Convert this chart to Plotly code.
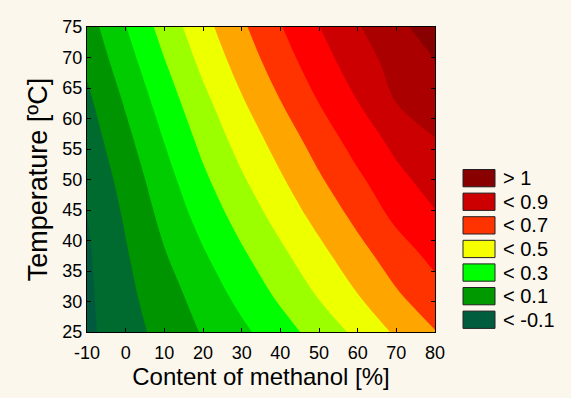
import plotly.graph_objects as go

# Data: estimated response values on a grid
methanol = [-10, 0, 10, 20, 30, 40, 50, 60, 70, 80]          # x, %
temperature = [25, 31, 38, 44, 50, 56, 63, 69, 75]          # y, ºC
response = [
    [-0.120, -0.042, 0.034, 0.108, 0.179, 0.258, 0.340, 0.423, 0.515, 0.596],  # 25
    [-0.118, -0.026, 0.058, 0.141, 0.230, 0.318, 0.408, 0.497, 0.588, 0.662],  # 31
    [-0.112, -0.008, 0.095, 0.192, 0.288, 0.381, 0.474, 0.568, 0.655, 0.733],  # 38
    [-0.100, 0.012, 0.128, 0.237, 0.339, 0.436, 0.533, 0.626, 0.722, 0.790],   # 44
    [-0.080, 0.037, 0.162, 0.281, 0.388, 0.488, 0.588, 0.682, 0.772, 0.843],   # 50
    [-0.055, 0.070, 0.200, 0.324, 0.436, 0.538, 0.640, 0.738, 0.825, 0.893],   # 56
    [-0.020, 0.113, 0.249, 0.375, 0.492, 0.600, 0.705, 0.802, 0.905, 0.948],   # 63
    [0.018, 0.155, 0.293, 0.423, 0.540, 0.650, 0.755, 0.850, 0.935, 0.995],    # 69
    [0.055, 0.197, 0.339, 0.466, 0.583, 0.694, 0.798, 0.892, 0.977, 1.045],    # 75
]

x_ticks = [-10, 0, 10, 20, 30, 40, 50, 60, 70, 80]
x_ticktext = ["-10", "0", "10", "20", "30", "40", "50", "60", "70", "80"]
y_ticks = [25, 30, 35, 40, 45, 50, 55, 60, 65, 70, 75]

band_colors = ["#005a3e", "#006b2e", "#009400", "#00cc00", "#00ff00", "#9cff00",
               "#eeff00", "#ffa500", "#ff3300", "#ff0000", "#cc0000", "#aa0000", "#880000"]

legend_labels = ["> 1", "< 0.9", "< 0.7", "< 0.5", "< 0.3", "< 0.1", "< -0.1"]
legend_colors = ["#880000", "#cc0000", "#ff3300", "#f5ff00", "#00ff00", "#009900", "#005e3e"]

n = len(band_colors)
colorscale = [[k / (n - 1), c] for k, c in enumerate(band_colors)]

BG = "#fcf7ec"

fig = go.Figure()
fig.add_trace(go.Contour(
    x=methanol, y=temperature, z=response,
    colorscale=colorscale,
    contours=dict(start=-0.1, end=1.0, size=0.1, coloring="fill", showlines=False),
    line=dict(width=0, smoothing=1.0),
    showscale=False,
    hoverinfo="skip",
))

FONT = "Liberation Sans, Arial, sans-serif"
W, H = 571, 398
L, R, T, B = 87, 435, 27, 332

def px2paper_x(px):
    return (px - L) / (R - L)

def px2paper_y(py):
    return (B - py) / (B - T)

shapes = []
annotations = []
for i, (lab, col) in enumerate(zip(legend_labels, legend_colors)):
    top = 169.5 + i * 23.6
    bot = top + 17.3
    shapes.append(dict(type="rect", xref="paper", yref="paper",
                       x0=px2paper_x(463), x1=px2paper_x(495),
                       y0=px2paper_y(bot), y1=px2paper_y(top),
                       fillcolor=col, line=dict(color="#222222", width=1)))
    annotations.append(dict(xref="paper", yref="paper",
                            x=px2paper_x(501), y=px2paper_y((top + bot) / 2),
                            text=lab, showarrow=False, xanchor="left", yanchor="middle",
                            font=dict(family=FONT, size=20, color="#000000")))

fig.update_layout(
    width=W, height=H,
    margin=dict(l=L, r=W - R, t=T, b=H - B, autoexpand=False),
    paper_bgcolor=BG,
    plot_bgcolor=BG,
    font=dict(family=FONT, size=18, color="#000000"),
    shapes=shapes,
    annotations=annotations,
    xaxis=dict(range=[-10, 80], tickvals=x_ticks, ticktext=x_ticktext,
               ticks="inside", ticklen=4,
               tickcolor="#000000", showline=True, linecolor="#000000", linewidth=1,
               mirror="ticks", showgrid=False, zeroline=False,
               tickfont=dict(size=18), ticklabelstandoff=4,
               title=dict(text="Content of methanol [%]", font=dict(size=24), standoff=4)),
    yaxis=dict(range=[25, 75], tickvals=y_ticks,
               ticks="inside", ticklen=4,
               tickcolor="#000000", showline=True, linecolor="#000000", linewidth=1,
               mirror="ticks", showgrid=False, zeroline=False,
               tickfont=dict(size=18),
               title=dict(text="Temperature [ºC]", font=dict(size=27), standoff=6)),
)

fig.write_html(
    "out.html",
    config={"displayModeBar": False},
    post_script="document.body.style.margin='0';document.body.style.background='%s';" % BG,
)
